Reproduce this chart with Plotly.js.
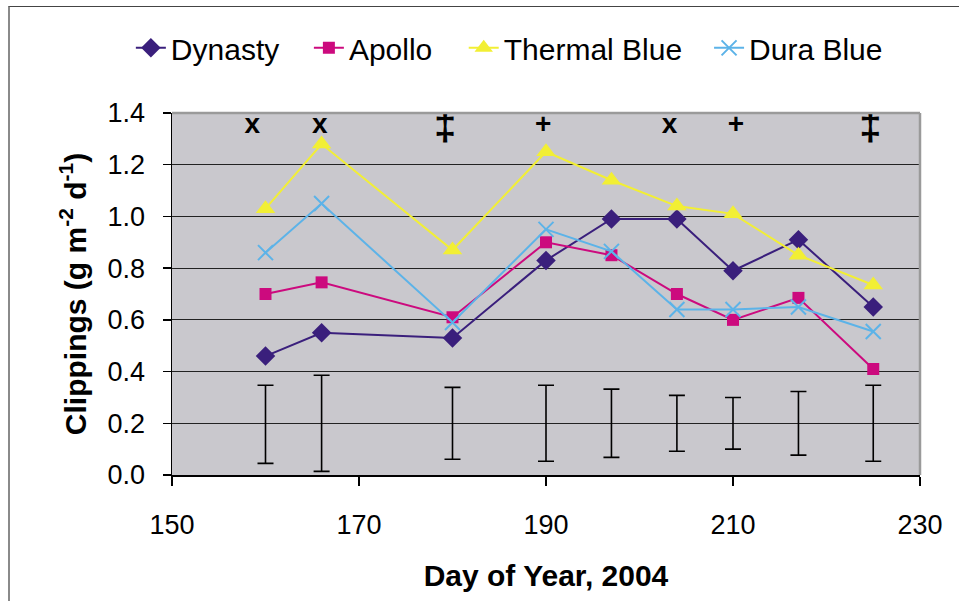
<!DOCTYPE html>
<html>
<head>
<meta charset="utf-8">
<script src="https://cdn.plot.ly/plotly-3.0.1.min.js"></script>
<style>
  body { margin: 0; background: #fff; }
  #chart { position: absolute; left: 0; top: 0; width: 959px; height: 601px; }
  #frame { position: absolute; left: 8px; top: 6px; width: 960px; height: 600px;
           border-left: 2px solid #8a8a8a; border-top: 1px solid #444; pointer-events: none; }
</style>
</head>
<body>
<div id="chart"></div>
<div id="frame"></div>
<script>
'use strict';

// day of year for each sampling date
const days = [160, 166, 180, 190, 197, 204, 210, 217, 225];

// clippings, g m-2 d-1
const dynasty     = [0.46, 0.55, 0.53, 0.83, 0.99, 0.99, 0.79, 0.91, 0.65];
const apollo      = [0.70, 0.745, 0.61, 0.90, 0.85, 0.70, 0.60, 0.685, 0.41];
const thermalBlue = [1.03, 1.28, 0.87, 1.25, 1.14, 1.04, 1.01, 0.85, 0.735];
const duraBlue    = [0.86, 1.05, 0.59, 0.95, 0.865, 0.64, 0.64, 0.65, 0.555];

// LSD bars drawn around 0.2
const lsdCenter = [0.196, 0.20, 0.20, 0.20, 0.20, 0.20, 0.20, 0.20, 0.20];
const lsdHalf   = [0.151, 0.186, 0.139, 0.147, 0.132, 0.108, 0.10, 0.123, 0.147];

// significance marks along the top
const sigDays   = [158.6, 165.8, 179.2, 189.7, 203.2, 210.3, 224.7];
const sigLevel  = [1.35, 1.35, 1.335, 1.35, 1.35, 1.35, 1.335];
const sigLabels = ['x', 'x', '‡', '+', 'x', '+', '‡'];

const FONT = '"Liberation Sans", Arial, sans-serif';

function series(name, y, color, symbol, size, legendId) {
    return {
        x: days, y: y, name: name, type: 'scatter', mode: 'lines+markers',
        legend: legendId,
        line: {color: color, width: 2},
        marker: {color: color, symbol: symbol, size: size,
                 line: {color: color, width: symbol === 'x-thin' ? 2 : 0}}
    };
}

let traces = [
    series('Dynasty', dynasty, '#3a1f7c', 'diamond', 15, 'legend'),
    series('Apollo', apollo, '#cc0a7e', 'square', 12, 'legend2'),
    series('Thermal Blue', thermalBlue, '#f2ef34', 'triangle-up', 17, 'legend3'),
    series('Dura Blue', duraBlue, '#5cb3e8', 'x-thin', 15, 'legend4'),
    {
        x: days, y: lsdCenter, type: 'scatter', mode: 'markers', showlegend: false,
        marker: {size: 1, color: 'rgba(0,0,0,0)'},
        error_y: {type: 'data', array: lsdHalf, visible: true, color: '#000', thickness: 1.6, width: 8}
    },
    {
        x: sigDays, y: sigLevel, type: 'scatter', mode: 'text', text: sigLabels, showlegend: false,
        textposition: 'middle center',
        textfont: {family: FONT, color: '#000', weight: 'bold',
                   size: sigLabels.map(s => s === '‡' ? 40 : 28)}
    }
];

// one legend box per series so the spacing can follow the original
function legendAt(x) {
    return {
        orientation: 'h', x: x, xanchor: 'left', y: 1.18, yanchor: 'middle',
        font: {family: FONT, size: 30, color: '#000'},
        bgcolor: 'rgba(0,0,0,0)'
    };
}

let layout = {
    width: 959, height: 601,
    margin: {l: 172, r: 39, t: 113, b: 126},
    paper_bgcolor: '#fff',
    plot_bgcolor: '#c9c8cd',
    font: {family: FONT, size: 26, color: '#000'},
    showlegend: true,
    legend: legendAt(-0.055),
    legend2: legendAt(0.183),
    legend3: legendAt(0.390),
    legend4: legendAt(0.718),
    xaxis: {
        range: [150, 230], tickvals: [150, 170, 190, 210, 230],
        showgrid: false, zeroline: false,
        showline: true, linecolor: '#000', linewidth: 1.5,
        ticks: 'outside', ticklen: 9, tickcolor: '#000', tickwidth: 1.5,
        ticklabelstandoff: 16,
        tickfont: {family: FONT, size: 27},
        title: {text: 'Day of Year, 2004', standoff: 26,
                font: {family: FONT, size: 30, weight: 'bold'}}
    },
    yaxis: {
        range: [0, 1.4], dtick: 0.2, tickformat: '.1f',
        showgrid: true, gridcolor: '#222', gridwidth: 1, zeroline: false,
        showline: true, linecolor: '#000', linewidth: 1.5,
        ticks: 'outside', ticklen: 8, tickcolor: '#000', tickwidth: 1.5,
        ticklabelstandoff: 12,
        tickfont: {family: FONT, size: 27},
        title: {text: 'Clippings (g m<sup>-2</sup> d<sup>-1</sup>)', standoff: 12,
                font: {family: FONT, size: 30, weight: 'bold'}}
    },
    shapes: [
        {type: 'line', xref: 'paper', yref: 'paper', x0: 0, x1: 1, y0: 1, y1: 1,
         line: {color: '#9a9a9a', width: 2.5}, layer: 'above'},
        {type: 'line', xref: 'paper', yref: 'paper', x0: 1, x1: 1, y0: 0, y1: 1,
         line: {color: '#9a9a9a', width: 2.5}, layer: 'above'}
    ]
};

Plotly.newPlot('chart', traces, layout, {staticPlot: true});
</script>
</body>
</html>
